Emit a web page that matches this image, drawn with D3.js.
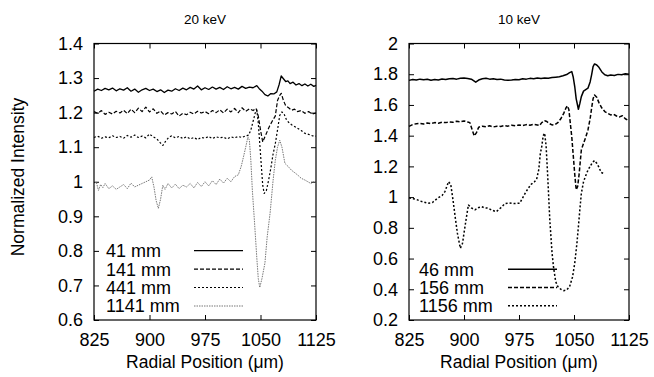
<!DOCTYPE html>
<html><head><meta charset="utf-8">
<script src="https://cdn.jsdelivr.net/npm/d3@7"></script>
<style>html,body{margin:0;padding:0;background:#fff}svg{display:block}</style>
</head><body><svg id="c" width="654" height="377"></svg>
<script>
// ---------- DATA ----------
const xTicks = [825, 900, 975, 1050, 1125];
const yTicksLeft = [0.6, 0.7, 0.8, 0.9, 1, 1.1, 1.2, 1.3, 1.4];
const yTicksRight = [0.2, 0.4, 0.6, 0.8, 1, 1.2, 1.4, 1.6, 1.8, 2];
const titles = ["20 keV", "10 keV"];
const legendLeft = ["41 mm", "141 mm", "441 mm", "1141 mm"];
const legendRight = ["46 mm", "156 mm", "1156 mm"];

const s41 = [[825,1.262],[830,1.268],[835,1.264],[840,1.270],[845,1.266],[850,1.271],[855,1.263],[860,1.269],[865,1.265],[870,1.272],[875,1.262],[880,1.268],[885,1.259],[890,1.266],[895,1.270],[900,1.264],[905,1.268],[910,1.261],[915,1.266],[920,1.258],[925,1.265],[930,1.262],[935,1.269],[940,1.264],[945,1.271],[950,1.266],[955,1.273],[960,1.268],[965,1.277],[970,1.266],[975,1.272],[980,1.267],[985,1.274],[990,1.268],[995,1.273],[1000,1.267],[1005,1.275],[1010,1.269],[1015,1.273],[1020,1.268],[1025,1.276],[1030,1.270],[1035,1.274],[1040,1.272],[1045,1.278],[1048,1.270],[1052,1.262],[1056,1.252],[1060,1.248],[1064,1.255],[1068,1.254],[1072,1.260],[1075,1.280],[1078,1.306],[1081,1.298],[1084,1.290],[1087,1.292],[1090,1.284],[1094,1.288],[1098,1.280],[1102,1.284],[1106,1.278],[1110,1.283],[1114,1.277],[1118,1.282],[1122,1.276],[1125,1.279]];
const s141 = [[825,1.203],[830,1.198],[835,1.206],[840,1.195],[845,1.201],[850,1.196],[855,1.204],[860,1.199],[865,1.207],[870,1.197],[875,1.210],[880,1.200],[885,1.213],[890,1.203],[895,1.216],[900,1.202],[905,1.211],[910,1.198],[915,1.205],[920,1.193],[925,1.200],[930,1.196],[935,1.203],[940,1.190],[945,1.198],[950,1.194],[955,1.201],[960,1.196],[965,1.204],[970,1.199],[975,1.203],[980,1.197],[985,1.206],[990,1.200],[995,1.208],[1000,1.199],[1005,1.210],[1010,1.202],[1015,1.212],[1020,1.200],[1025,1.214],[1030,1.204],[1035,1.211],[1040,1.206],[1044,1.212],[1047,1.190],[1050,1.150],[1053,1.115],[1056,1.130],[1059,1.145],[1062,1.160],[1066,1.176],[1070,1.190],[1073,1.235],[1076,1.250],[1078,1.256],[1081,1.235],[1084,1.220],[1088,1.214],[1092,1.207],[1096,1.210],[1100,1.203],[1105,1.206],[1110,1.198],[1115,1.203],[1120,1.196],[1125,1.199]];
const s441 = [[825,1.128],[830,1.132],[835,1.126],[840,1.130],[845,1.127],[850,1.133],[855,1.128],[860,1.131],[865,1.126],[870,1.134],[875,1.129],[880,1.135],[885,1.128],[890,1.132],[895,1.127],[900,1.138],[905,1.130],[910,1.124],[915,1.112],[918,1.105],[922,1.118],[926,1.128],[930,1.133],[935,1.127],[940,1.131],[945,1.125],[950,1.130],[955,1.124],[960,1.128],[965,1.122],[970,1.128],[975,1.126],[980,1.131],[985,1.125],[990,1.130],[995,1.127],[1000,1.129],[1005,1.124],[1010,1.130],[1015,1.127],[1020,1.131],[1025,1.128],[1030,1.133],[1034,1.135],[1037,1.150],[1040,1.175],[1043,1.200],[1045,1.208],[1047,1.170],[1050,1.080],[1053,0.990],[1055,0.966],[1058,0.975],[1061,1.005],[1064,1.040],[1067,1.080],[1070,1.110],[1073,1.150],[1076,1.192],[1079,1.202],[1082,1.195],[1085,1.180],[1088,1.172],[1092,1.165],[1096,1.160],[1100,1.155],[1105,1.148],[1110,1.140],[1115,1.137],[1120,1.133],[1125,1.132]];
const s1141 = [[825,0.990],[828,1.000],[831,0.975],[834,0.992],[837,0.983],[840,0.995],[845,0.980],[850,0.988],[855,0.978],[860,0.985],[865,0.992],[870,0.980],[875,0.996],[880,0.985],[885,0.990],[890,0.995],[895,1.000],[900,1.005],[903,1.014],[906,0.985],[909,0.945],[912,0.923],[915,0.950],[918,0.990],[921,0.978],[925,0.995],[930,0.982],[935,0.993],[940,0.980],[945,0.990],[950,0.985],[955,0.995],[960,0.982],[965,0.998],[970,0.986],[975,1.000],[980,0.988],[985,1.003],[990,0.992],[995,1.008],[1000,0.996],[1005,1.010],[1010,1.000],[1015,1.015],[1020,1.020],[1024,1.045],[1027,1.072],[1030,1.100],[1033,1.130],[1035,1.120],[1037,1.060],[1039,0.975],[1042,0.880],[1045,0.780],[1047,0.720],[1049,0.694],[1052,0.720],[1056,0.765],[1059,0.840],[1063,0.910],[1067,1.004],[1070,1.062],[1073,1.100],[1076,1.120],[1079,1.100],[1083,1.053],[1087,1.045],[1092,1.033],[1097,1.025],[1101,1.018],[1105,1.010],[1110,1.005],[1114,1.000],[1118,0.995],[1122,1.000],[1125,0.995]];

const s46 = [[825,1.760],[830,1.766],[835,1.762],[840,1.768],[845,1.764],[850,1.767],[855,1.761],[860,1.766],[865,1.763],[870,1.769],[875,1.765],[880,1.770],[885,1.772],[890,1.768],[895,1.774],[900,1.776],[905,1.772],[910,1.768],[913,1.758],[916,1.748],[920,1.762],[925,1.770],[930,1.774],[935,1.768],[940,1.771],[945,1.766],[950,1.768],[955,1.763],[960,1.760],[965,1.762],[970,1.766],[975,1.764],[980,1.770],[985,1.768],[990,1.773],[995,1.771],[1000,1.775],[1005,1.772],[1010,1.776],[1015,1.774],[1020,1.778],[1025,1.781],[1030,1.784],[1035,1.790],[1040,1.798],[1044,1.810],[1047,1.817],[1049,1.780],[1051,1.720],[1053,1.640],[1056,1.572],[1058,1.610],[1060,1.654],[1063,1.690],[1066,1.700],[1069,1.709],[1072,1.750],[1074,1.796],[1076,1.850],[1078,1.867],[1081,1.860],[1084,1.845],[1088,1.815],[1092,1.796],[1096,1.790],[1100,1.795],[1105,1.792],[1110,1.799],[1115,1.796],[1120,1.803],[1125,1.800]];
const s156 = [[825,1.460],[830,1.472],[835,1.478],[840,1.480],[845,1.476],[850,1.483],[855,1.479],[860,1.485],[865,1.481],[870,1.488],[875,1.485],[880,1.490],[885,1.487],[890,1.494],[895,1.490],[900,1.496],[905,1.489],[908,1.485],[911,1.440],[914,1.398],[917,1.420],[920,1.455],[925,1.462],[930,1.458],[935,1.464],[940,1.457],[945,1.462],[950,1.460],[955,1.466],[960,1.462],[965,1.468],[970,1.464],[975,1.470],[980,1.466],[985,1.472],[990,1.468],[995,1.474],[1000,1.470],[1003,1.466],[1006,1.485],[1010,1.497],[1013,1.492],[1016,1.480],[1020,1.470],[1024,1.472],[1028,1.485],[1032,1.510],[1036,1.545],[1039,1.580],[1041,1.594],[1043,1.570],[1045,1.480],[1047,1.390],[1049,1.270],[1051,1.150],[1053,1.047],[1055,1.070],[1057,1.150],[1060,1.307],[1063,1.350],[1066,1.390],[1069,1.437],[1072,1.510],[1074,1.579],[1076,1.640],[1078,1.665],[1081,1.650],[1084,1.615],[1088,1.580],[1092,1.557],[1096,1.545],[1100,1.535],[1104,1.540],[1108,1.528],[1112,1.522],[1116,1.530],[1120,1.510],[1124,1.500]];
const s1156 = [[825,0.995],[830,0.990],[835,0.985],[840,0.975],[845,0.968],[851,0.960],[857,0.965],[864,0.993],[870,1.010],[874,1.036],[879,1.101],[882,1.080],[885,0.982],[888,0.870],[891,0.765],[895,0.667],[898,0.700],[900,0.765],[903,0.860],[906,0.949],[910,0.930],[915,0.917],[920,0.932],[924,0.938],[928,0.930],[933,0.928],[938,0.915],[944,0.905],[950,0.930],[956,0.958],[962,0.962],[968,0.958],[976,0.960],[980,0.995],[984,1.030],[988,1.060],[992,1.085],[996,1.100],[999,1.115],[1002,1.180],[1004,1.280],[1006,1.329],[1008,1.400],[1010,1.416],[1012,1.330],[1014,1.150],[1017,0.852],[1020,0.640],[1022,0.548],[1025,0.450],[1028,0.417],[1032,0.400],[1036,0.391],[1040,0.395],[1044,0.417],[1048,0.480],[1051,0.570],[1054,0.700],[1056,0.808],[1058,0.920],[1060,1.025],[1063,1.100],[1066,1.140],[1069,1.175],[1072,1.200],[1075,1.225],[1078,1.238],[1081,1.220],[1084,1.195],[1087,1.160],[1090,1.155]];

// ---------- DRAW ----------
const svg = d3.select("#c");
const FONT = "'Liberation Sans', Arial, sans-serif";

const styles = [
  {stroke:"#000", w:1.3, dash:null},
  {stroke:"#000", w:1.2, dash:"4,2"},
  {stroke:"#000", w:1.2, dash:"2,2"},
  {stroke:"#777", w:1.0, dash:"1.5,1"}
];
const stylesR = [
  {stroke:"#000", w:1.5, dash:null},
  {stroke:"#000", w:1.5, dash:"4,2"},
  {stroke:"#000", w:1.5, dash:"2,2"}
];

function panel(cfg) {
  const x = d3.scaleLinear().domain([825,1125]).range([cfg.x0, cfg.x1]);
  const y = d3.scaleLinear().domain(cfg.yDomain).range([320, 43.5]);
  const g = svg.append("g");
  const tl = 5;

  const fmt = d => (d === 1 || d === 2) ? String(d) : d3.format(".1f")(d);
  const ax = [
    g.append("g").attr("transform",`translate(0,320)`).call(d3.axisBottom(x).tickValues(xTicks).tickSizeInner(-tl).tickSizeOuter(0).tickPadding(tl+8).tickFormat(d3.format("d"))),
    g.append("g").attr("transform",`translate(0,43.5)`).call(d3.axisTop(x).tickValues(xTicks).tickSizeInner(-tl).tickSizeOuter(0).tickFormat("")),
    g.append("g").attr("transform",`translate(${cfg.x0},0)`).call(d3.axisLeft(y).tickValues(cfg.yTicks).tickSizeInner(-tl).tickSizeOuter(0).tickPadding(tl+6).tickFormat(fmt)),
    g.append("g").attr("transform",`translate(${cfg.x1},0)`).call(d3.axisRight(y).tickValues(cfg.yTicks).tickSizeInner(-tl).tickSizeOuter(0).tickFormat(""))
  ];
  ax.forEach(a => {
    a.select(".domain").remove();
    a.selectAll("line").attr("stroke","#000").attr("stroke-width",1);
    a.selectAll("text").attr("font-family",FONT).attr("font-size",18).attr("fill","#000");
  });
  g.append("rect").attr("x",cfg.x0).attr("y",43.5).attr("width",cfg.x1-cfg.x0).attr("height",320-43.5)
    .attr("fill","none").attr("stroke","#000").attr("stroke-width",1.2);

  const line = d3.line().x(d => x(d[0])).y(d => y(d[1]));
  cfg.series.forEach((s,i) => {
    const st = cfg.styles[i];
    g.append("path").datum(s).attr("d",line).attr("fill","none")
      .attr("stroke",st.stroke).attr("stroke-width",st.w).attr("stroke-dasharray",st.dash)
      .attr("stroke-linejoin","round");
  });

  cfg.legend.forEach((t,i) => {
    const yy = cfg.legY[i];
    const st = cfg.styles[i];
    g.append("text").attr("x",cfg.legTx).attr("y",yy).attr("dy","0.35em")
      .attr("font-family",FONT).attr("font-size",18).attr("fill","#000").text(t);
    g.append("line").attr("x1",cfg.legL0).attr("x2",cfg.legL1).attr("y1",yy).attr("y2",yy)
      .attr("stroke",st.stroke).attr("stroke-width",st.w).attr("stroke-dasharray",st.dash);
  });

  g.append("text").attr("x",(cfg.x0+cfg.x1)/2).attr("y",24).attr("text-anchor","middle")
    .attr("font-family",FONT).attr("font-size",13.5).attr("fill","#000").text(cfg.title);
  g.append("text").attr("x",(cfg.x0+cfg.x1)/2).attr("y",368).attr("text-anchor","middle")
    .attr("font-family",FONT).attr("font-size",17.5).attr("fill","#000").text("Radial Position (μm)");
}

panel({x0:94, x1:316, yDomain:[0.6,1.4], yTicks:yTicksLeft, title:titles[0],
  series:[s41,s141,s441,s1141], styles:styles, legend:legendLeft,
  legY:[250.7,269.2,287.5,306], legTx:106, legL0:194, legL1:243});
panel({x0:409, x1:629, yDomain:[0.2,2], yTicks:yTicksRight, title:titles[1],
  series:[s46,s156,s1156], styles:stylesR, legend:legendRight,
  legY:[269.2,287.6,305.7], legTx:419, legL0:508, legL1:557});

svg.append("text").attr("transform","translate(24,177) rotate(-90)").attr("text-anchor","middle")
  .attr("font-family",FONT).attr("font-size",17.5).attr("fill","#000").text("Normalized Intensity");
</script>
</body></html>
